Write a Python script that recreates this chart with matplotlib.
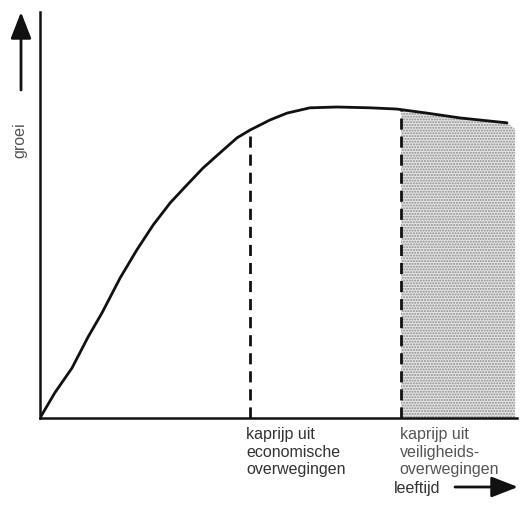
import matplotlib
matplotlib.use("Agg")
import matplotlib.pyplot as plt
import numpy as np

plt.rcParams['font.family'] = ['Liberation Sans', 'DejaVu Sans']

# growth curve (age, growth) in arbitrary units
age = [0, 3.1, 6.7, 10.1, 13.0, 16.8, 20.3, 23.7, 27.3, 30.8, 34.2, 38.4, 41.3,
       44.0, 48.2, 51.8, 56.6, 62.3, 69.2, 74.8, 81.1, 88.1, 97.9]
growth = [0, 6.2, 12.3, 20.0, 25.9, 34.5, 41.4, 47.5, 53.0, 57.4, 61.6, 66.0, 69.0,
          70.9, 73.4, 75.1, 76.4, 76.6, 76.4, 76.1, 75.1, 73.9, 72.7]

econ_age = 44.0      # economic harvest age
safety_age = 75.7    # safety harvest age

label_econ = "kaprijp uit\neconomische\noverwegingen"
label_safety = "kaprijp uit\nveiligheids-\noverwegingen"
xlabel = "leeftijd"
ylabel = "groei"

W, H = 521, 520
fig = plt.figure(figsize=(W / 100, H / 100), dpi=100)
ax = fig.add_axes([40 / W, (H - 418) / H, (517 - 40) / W, (418 - 12) / H])
ax.set_xlim(0, 100)
ax.set_ylim(0, 100)

for s in ['top', 'right']:
    ax.spines[s].set_visible(False)
for s in ['left', 'bottom']:
    ax.spines[s].set_linewidth(1.8)
    ax.spines[s].set_color('#111111')
ax.set_xticks([])
ax.set_yticks([])
ax.patch.set_alpha(0)

ax.plot(age, growth, color='#111111', lw=2.0, solid_capstyle='round',
        solid_joinstyle='round', zorder=3)

# shaded region beyond the safety age
a = np.array(age)
g = np.array(growth)
mask = a > safety_age
xs = np.concatenate([[safety_age], a[mask], [99.6]])
ys = np.concatenate([[np.interp(safety_age, a, g)], g[mask], [g[mask][-1] - 1.5]])
ax.fill_between(xs, 0, ys, facecolor='#e6e6e6', edgecolor='#8a8a8a',
                hatch='......', linewidth=0, zorder=1)

# dashed harvest lines
ax.vlines(econ_age, 0, np.interp(econ_age, a, g), colors='#111111', lw=2.0,
          linestyles=(0, (4, 2.5)), zorder=2)
ax.vlines(safety_age, 0, np.interp(safety_age, a, g), colors='#111111', lw=2.0,
          linestyles=(0, (4, 2.5)), zorder=2)

# labels under axis
ax.text(econ_age - 0.8, -2.2, label_econ, ha='left', va='top', fontsize=11.5,
        color='#333333', linespacing=1.22, clip_on=False)
ax.text(safety_age - 0.3, -2.2, label_safety, ha='left', va='top', fontsize=11.5,
        color='#555555', linespacing=1.22, clip_on=False)

# axis labels and arrows (figure pixel coordinates)
fig.text(440 / W, (H - 488) / H, xlabel, ha='right', va='center', fontsize=11.5,
         color='#333333')
fig.text(20 / W, (H - 140) / H, ylabel, ha='center', va='center', rotation=90,
         fontsize=11.5, color='#555555')

arrow_kw = dict(arrowstyle='-|>,head_length=0.9,head_width=0.35', color='#111111',
                lw=2.0, shrinkA=0, shrinkB=0)
fig.patches.append(matplotlib.patches.FancyArrowPatch(
    (21 / W, (H - 90) / H), (21 / W, (H - 12) / H), transform=fig.transFigure,
    mutation_scale=18, **arrow_kw))
fig.patches.append(matplotlib.patches.FancyArrowPatch(
    (455 / W, (H - 487) / H), (518 / W, (H - 487) / H), transform=fig.transFigure,
    mutation_scale=18, **arrow_kw))

fig.savefig('out.png', dpi=100, facecolor='white')
